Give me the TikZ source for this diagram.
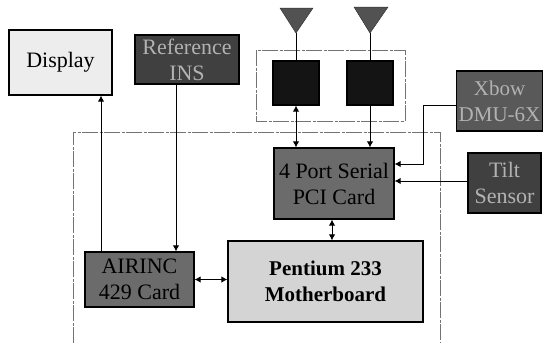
\documentclass[tikz,border=0pt]{standalone}
\usepackage{fontspec}
\setmainfont{Liberation Serif}
\usepackage{tikz}
\usetikzlibrary{arrows.meta}
\tikzset{
  unit/.style={draw=black,line width=1.2pt,inner sep=0pt,align=center,font=\fontsize{22}{26}\selectfont},
  darkunit/.style={unit,fill=black!75,text=black!30},
  midunit/.style={unit,fill=black!58,text=black},
  lightunit/.style={unit,fill=black!7,text=black},
  rxunit/.style={unit,fill=black!92,minimum width=46pt,minimum height=44pt},
  antenna/.style={fill=black!68,draw=black!80,line width=0.5pt},
  enclosure/.style={draw=black!55,line width=0.8pt,dash pattern=on 16pt off 1.5pt on 3pt off 1.5pt},
  wire/.style={line width=1pt}
}

\begin{document}
\begin{tikzpicture}[>={Latex[length=6pt,width=6.5pt]},x=1pt,y=-1pt]
  \useasboundingbox (0,0) rectangle (543,343);

  % Dashed enclosures
  \draw[enclosure] (256,50) rectangle (405,121);
  \draw[enclosure] (73,343) -- (73,132) -- (440,132) -- (440,343);

  % Antennas
  \coordinate (antA) at (296,33);
  \coordinate (antB) at (370,33);
  \filldraw[antenna] (280,8) -- (313,8) -- (antA) -- cycle;
  \filldraw[antenna] (354,7) -- (388,7) -- (antB) -- cycle;

  % Units
  \node[lightunit,minimum width=103pt,minimum height=65pt] (display) at (60.5,62.5) {Display};
  \node[darkunit,minimum width=104pt,minimum height=49pt] (ins) at (187,59.5) {Reference\\INS};
  \node[rxunit] (rxA) at (296,83) {};
  \node[rxunit] (rxB) at (370,83) {};
  \node[darkunit,fill=black!65,minimum width=86pt,minimum height=60pt,font=\fontsize{21}{26}\selectfont] (xbow) at (499.5,101) {Xbow\\DMU-6X};
  \node[midunit,minimum width=120pt,minimum height=71pt] (serial) at (334,183.5) {4 Port Serial\\PCI Card};
  \node[darkunit,minimum width=73pt,minimum height=60pt] (tilt) at (504.5,183) {Tilt\\Sensor};
  \node[lightunit,fill=black!17,minimum width=195pt,minimum height=81pt,font=\bfseries\fontsize{21}{26}\selectfont] (pentium) at (325.5,281.5) {Pentium 233\\Motherboard};
  \node[midunit,minimum width=109pt,minimum height=55pt] (airinc) at (139.5,279.5) {AIRINC\\429 Card};

  % Connectors
  \coordinate (dispx) at (101,0);
  \coordinate (insx) at (176,0);
  \coordinate (pcix) at (332,0);
  \coordinate (xbowy) at (0,105);
  \coordinate (xbowin) at (0,164);
  \coordinate (tilty) at (0,181);
  \coordinate (xbowturn) at (423,0);
  \draw[wire,->] (airinc.north -| dispx) -- (display.south -| dispx);
  \draw[wire,->] (ins.south -| insx) -- (airinc.north -| insx);
  \draw[wire] (antA) -- (rxA.north);
  \draw[wire] (antB) -- (rxB.north);
  \draw[wire,<->] (rxA.south) -- (serial.north -| rxA);
  \draw[wire,->] (rxB.south) -- (serial.north -| rxB);
  \draw[wire,->] (xbow.west |- xbowy) -- (xbowturn |- xbowy) -- (xbowturn |- xbowin) -- (serial.east |- xbowin);
  \draw[wire,->] (tilt.west |- tilty) -- (serial.east |- tilty);
  \draw[wire,<->] (serial.south -| pcix) -- (pentium.north -| pcix);
  \draw[wire,<->] (airinc.east) -- (pentium.west |- airinc);
\end{tikzpicture}
\end{document}
